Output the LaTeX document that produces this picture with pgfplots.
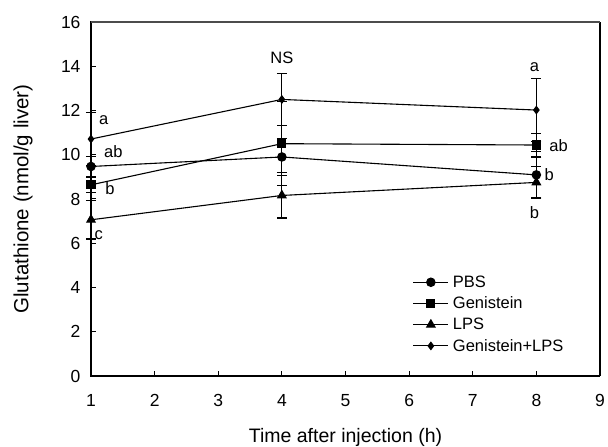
\documentclass[border=0pt]{standalone}
\usepackage{fontspec}
\setmainfont{Liberation Sans}
\usepackage{pgfplots}
\pgfplotsset{compat=1.18}
\newcommand\fs{\fontsize{16.5bp}{19bp}\selectfont}
\newcommand\ft{\fontsize{17.5bp}{20bp}\selectfont}

\begin{document}
\begin{tikzpicture}
\path[use as bounding box] (-91bp,-71bp) rectangle (517bp,376bp);
\begin{axis}[
    scale only axis,
    width=509bp, height=354bp,
    xmin=1, xmax=9, ymin=0, ymax=16,
    xtick={1,...,9}, ytick={0,2,...,16},
    xtick pos=bottom, ytick pos=left,
    tick align=inside,
    major tick length=5bp,
    tick style={black, line width=1bp},
    axis line style={line width=1bp},
    /pgf/number format/assume math mode=true,
    every tick label/.append style={font=\ft},
    xticklabel style={yshift=-15bp},
    yticklabel style={xshift=-7bp},
    xlabel={Time after injection (h)},
    ylabel={Glutathione (nmol/g liver)},
    xlabel style={font=\fontsize{19.5bp}{22bp}\selectfont,
        at={(rel axis cs:0.5,0)}, anchor=center, yshift=-61bp},
    ylabel style={font=\fontsize{20.5bp}{23bp}\selectfont,
        at={(rel axis cs:0,0.5)}, anchor=center, yshift=68bp},
    clip=false,
    every axis plot/.append style={black, line width=1.1bp,
        error bars/y dir=both, error bars/y explicit,
        error bars/error bar style={line width=1.1bp, black},
        error bars/error mark options={rotate=90, mark size=5bp, line width=1.1bp, black}},
    legend style={at={(rel axis cs:0.626,0.295)}, anchor=north west,
        draw=none, fill=none, font=\fs, row sep=4bp,
        /tikz/every odd column/.append style={column sep=2bp}},
    legend cell align=left,
    legend image code/.code={%
        \draw[mark repeat=2, mark phase=2] plot coordinates {(0bp,0bp) (17.5bp,0bp) (35bp,0bp)};},
]
\addplot[mark=*, mark size=4.2bp, mark options={solid, fill=black}]
  coordinates {(1,9.47) +- (0,0.45) (4,9.90) +- (0,0.85) (8,9.09) +- (0,1.06)};
\addlegendentry{PBS}
\addplot[mark=square*, mark size=4bp, mark options={solid, fill=black}]
  coordinates {(1,8.64) +- (0,0.35) (4,10.50) +- (0,1.89) (8,10.44) +- (0,0.54)};
\addlegendentry{Genistein}
\addplot[mark=triangle*, mark size=4.8bp, mark options={solid, fill=black}]
  coordinates {(1,7.06) +- (0,0.87) (4,8.16) +- (0,1.02) (8,8.75) +- (0,0.70)};
\addlegendentry{LPS}
\addplot[mark=diamond*, mark size=3.6bp, mark options={solid, fill=black}]
  coordinates {(1,10.71) +- (0,1.20) (4,12.50) +- (0,1.17) (8,12.02) +- (0,1.42)};
\addlegendentry{Genistein+LPS}

\draw[line width=2.5bp, black] (rel axis cs:0,1) -- (rel axis cs:0,0) -- (rel axis cs:1,0);
\draw[line width=1.8bp, black] (rel axis cs:1,0) -- (rel axis cs:1,1);
\draw[line width=1.2bp, black!70] (rel axis cs:0,1) -- (rel axis cs:1,1);

\node[font=\fs] at (axis cs:1.2,11.55) {a};
\node[font=\fs] at (axis cs:1.35,10.15) {ab};
\node[font=\fs] at (axis cs:1.3,8.45) {b};
\node[font=\fs] at (axis cs:1.12,6.35) {c};
\node[font=\fs] at (axis cs:4,14.4) {NS};
\node[font=\fs] at (axis cs:7.97,13.95) {a};
\node[font=\fs] at (axis cs:8.35,10.4) {ab};
\node[font=\fs] at (axis cs:8.2,9.1) {b};
\node[font=\fs] at (axis cs:7.97,7.4) {b};
\end{axis}
\end{tikzpicture}
\end{document}
